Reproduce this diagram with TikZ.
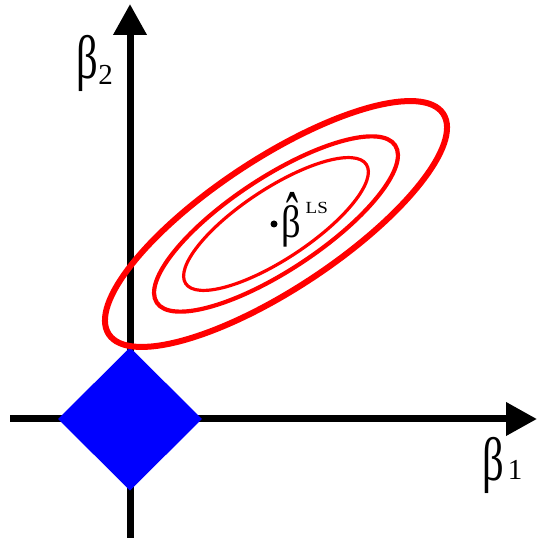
\documentclass[tikz,border=0pt]{standalone}
\usepackage{fontspec}
\setmainfont{Liberation Serif}
\usetikzlibrary{arrows.meta}
\begin{document}
\begin{tikzpicture}[x=1pt,y=1pt,
  axis/.style={line width=7pt, -{Triangle[length=31pt,width=32pt]}},
  lbl/.style={inner sep=0pt, anchor=north, font=\fontsize{52}{52}\selectfont},
  sublbl/.style={inner sep=0pt, anchor=south, font=\fontsize{29}{29}\selectfont},
  hatlbl/.style={inner sep=0pt, anchor=north, font=\fontsize{38.5}{38.5}\selectfont},
  suplbl/.style={inner sep=0pt, anchor=north west, font=\fontsize{20}{20}\selectfont}]
\useasboundingbox (0,0) rectangle (538,539);
\coordinate (O) at (130,120);
\coordinate (C) at (276,315);
\coordinate (ybot) at (130,1);
\coordinate (ytop) at (130,535);
\coordinate (xleft) at (10,120);
\coordinate (xright) at (537,120);
% axes
\draw[axis] (ybot) -- (ytop);
\draw[axis] (xleft) -- (xright);
% L1 ball
\fill[blue] (58,120) -- (130,191.5) -- (202,120) -- (130,48.5) -- cycle;
% contours
\begin{scope}[shift={(C)}, rotate=33.4]
  \draw[red, line width=6pt] (0,0) ellipse [x radius=200.3, y radius=65.1];
  \draw[red, line width=4.2pt] (0,0) ellipse [x radius=142.8, y radius=46.4];
  \draw[red, line width=3.2pt] (0,0) ellipse [x radius=108.2, y radius=35.2];
\end{scope}
% labels
\node[lbl] (b2) at (87.5,504) {\scalebox{0.82}[1.18]{β}};
\node[sublbl] (b2s) at (105.5,454) {2};
\node[lbl] (b1) at (493,102) {\scalebox{0.82}[1.18]{β}};
\node[sublbl] (b1s) at (515,59) {1};
\node[circle, fill=black, inner sep=0pt, minimum size=7pt] (dot) at (274,315) {};
\node[hatlbl] (bhat) at (291.5,334) {\scalebox{1.0}[1.18]{β}};
\node[inner sep=0pt, anchor=north, font=\fontsize{36}{36}\selectfont] (hat) at (292,347) {\scalebox{1}[2]{ˆ}};
\node[suplbl] (ls) at (305.5,336.5) {\scalebox{0.95}[0.85]{LS}};
\end{tikzpicture}
\end{document}
